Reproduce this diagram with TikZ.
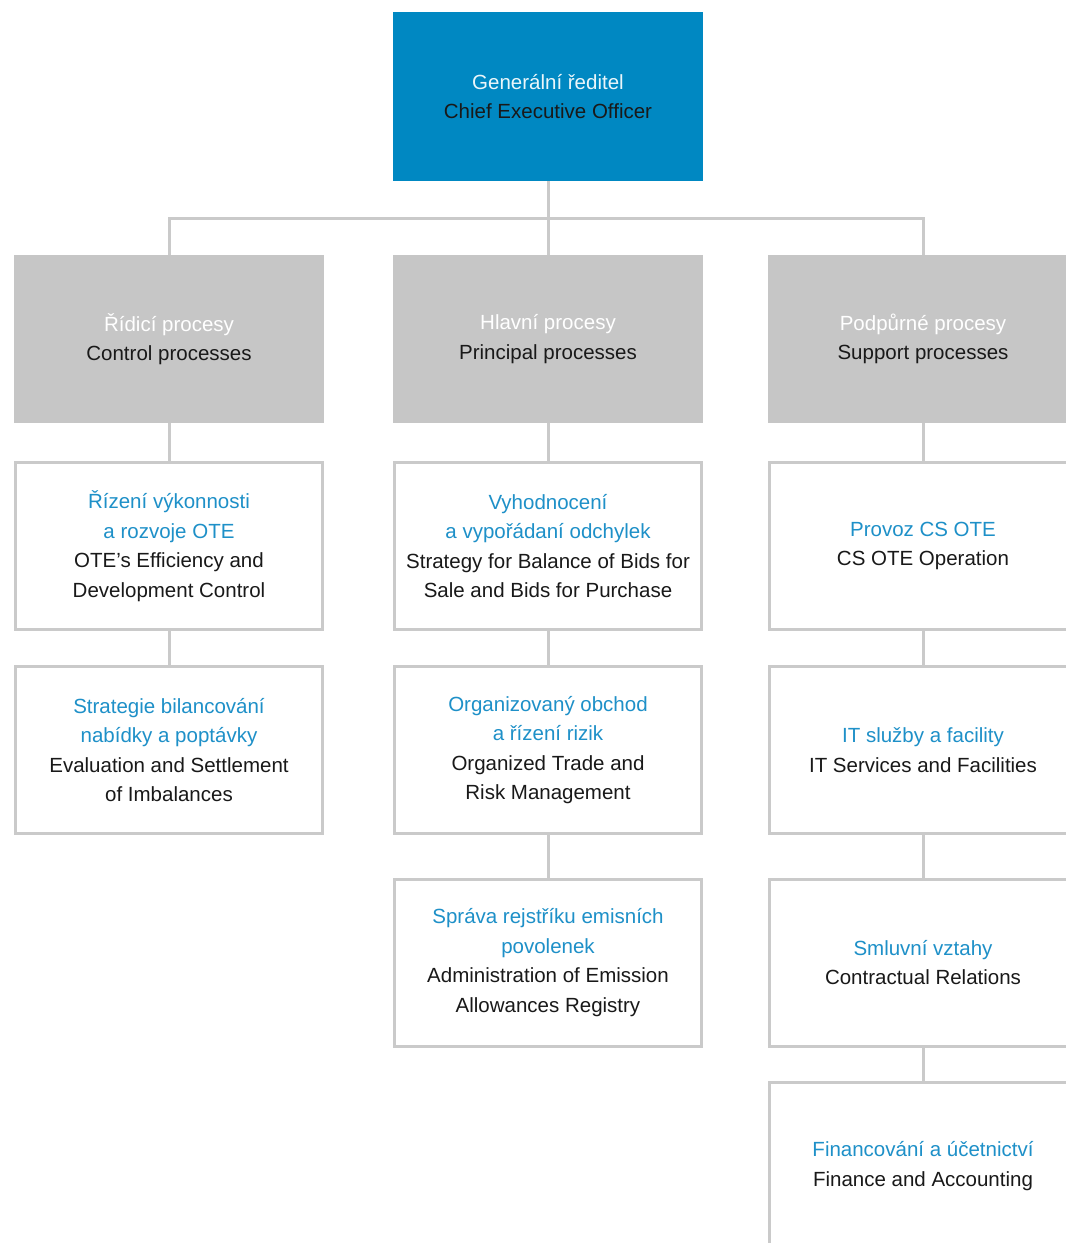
\documentclass[tikz,border=0pt]{standalone}
\usepackage{fontspec}
\setmainfont{Liberation Sans}
\usetikzlibrary{calc}

\definecolor{oteblue}{HTML}{0088C2}
\definecolor{otecz}{HTML}{1E90C8}
\definecolor{boxgray}{HTML}{C6C6C6}
\definecolor{linegray}{HTML}{CACACA}
\newcommand{\cz}[1]{\textcolor{otecz}{#1}}
\newcommand{\czw}[1]{\textcolor{white!92!oteblue}{#1}}

\begin{document}
\begin{tikzpicture}[
        x=1pt, y=1pt,
        level 1/.style={level distance=242.5pt, sibling distance=377pt},
        level 2/.style={level distance=207pt},
        level 3/.style={level distance=204pt},
        level 4/.style={level distance=212.5pt},
        level 5/.style={level distance=203.5pt},
        every node/.style={align=center, inner sep=0pt, text=black!90, font=\fontsize{20.5}{29.5}\selectfont},
        edge from parent/.style={draw=linegray, line width=3pt},
        edge from parent path={(\tikzparentnode.south) |- ($(\tikzparentnode.south)!.5!(\tikzchildnode.north)$) -| (\tikzchildnode.north)},
        ceobox/.style={fill=oteblue, minimum width=310pt, minimum height=169pt},
        procbox/.style={fill=boxgray, minimum width=310pt, minimum height=168pt},
        unitbox/.style={draw=linegray, line width=3pt, fill=white, minimum width=307pt, minimum height=167pt}
        ]
        \useasboundingbox (0,0) rectangle (1066,-1243);
        \clip (0,0) rectangle (1066,-1243);

        \node [ceobox] (ceo) at (548,-96.5) {\czw{Generální ředitel}\\Chief Executive Officer}
          child [xshift=-2pt] {node [procbox] (ctrl) {\textcolor{white}{Řídicí procesy}\\Control processes}
            child {node [unitbox] (perf) {\cz{Řízení výkonnosti}\\\cz{a rozvoje OTE}\\OTE’s Efficiency and\\Development Control}
              child {node [unitbox] (strat) {\cz{Strategie bilancování}\\\cz{nabídky a poptávky}\\Evaluation and Settlement\\of Imbalances}}}}
          child {node [procbox] (princ) {\textcolor{white}{Hlavní procesy}\\Principal processes}
            child {node [unitbox] (imbal) {\cz{Vyhodnocení}\\\cz{a vypořádaní odchylek}\\Strategy for Balance of Bids for\\Sale and Bids for Purchase}
              child {node [unitbox] (trade) {\cz{Organizovaný obchod}\\\cz{a řízení rizik}\\Organized Trade and\\Risk Management}
                child {node [unitbox] (emis) {\cz{Správa rejstříku emisních}\\\cz{povolenek}\\Administration of Emission\\Allowances Registry}}}}}
          child [xshift=-2pt] {node [procbox] (supp) {\textcolor{white}{Podpůrné procesy}\\Support processes}
            child {node [unitbox] (csote) {\cz{Provoz CS OTE}\\CS OTE Operation}
              child {node [unitbox] (itserv) {\cz{IT služby a facility}\\IT Services and Facilities}
                child {node [unitbox] (contr) {\cz{Smluvní vztahy}\\Contractual Relations}
                  child {node [unitbox] (fin) {\cz{Financování a účetnictví}\\Finance and Accounting}}}}}};
    \end{tikzpicture}
\end{document}
